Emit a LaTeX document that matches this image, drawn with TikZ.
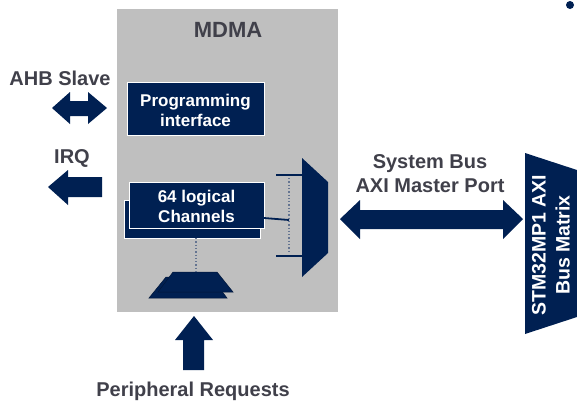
\documentclass[tikz,border=0pt]{standalone}
\usepackage{fontspec}
\setmainfont{Liberation Sans}
\definecolor{navy}{RGB}{0,32,82}
\definecolor{panel}{RGB}{191,191,191}
\definecolor{lbl}{RGB}{64,64,74}
\definecolor{dotc}{RGB}{100,116,145}
\begin{document}
\begin{tikzpicture}[x=1pt,y=-1pt,
  lab/.style={font=\fontsize{20}{24}\selectfont\bfseries, text=lbl, align=center, inner sep=0pt},
  boxtxt/.style={font=\fontsize{17}{20}\selectfont\bfseries, text=white, align=center, inner sep=0pt},
  navybox/.style={fill=navy, draw=white, line width=0.8pt},
  wire/.style={draw=navy, line width=2pt},
  dotwire/.style={draw=dotc, line width=1.3pt, dotted}]
\useasboundingbox (0,0) rectangle (577,405);
% MDMA panel
\fill[panel] (117,9) rectangle (338,312);
\node[lab, font=\fontsize{22}{24}\selectfont\bfseries] (mdma) at (228,30) {MDMA};
% programming interface
\draw[navybox] (127,82) rectangle (264,135);
\node[boxtxt] (prog) at (195.5,110) {Programming\\interface};
% channels
\draw[navybox] (124,200) rectangle (260,238);
\draw[navybox] (129,182) rectangle (264,228);
\node[boxtxt] (chan) at (196.5,206.5) {64 logical\\Channels};
\coordinate (chanR) at (264,218);
\coordinate (chanB) at (196,238);
% mux
\fill[navy] (302,158) -- (328,182) -- (328,253) -- (302,277) -- cycle;
\coordinate (muxA) at (302,175);
\coordinate (muxB) at (302,256);
\coordinate (tA) at (276,175);
\coordinate (tB) at (276,256);
\coordinate (dA) at (289,178);
\coordinate (dB) at (289,253);
\coordinate (dM) at (289,220);
\draw[wire] (tA) -- (muxA);
\draw[wire] (tB) -- (muxB);
\draw[dotwire] (dA) -- (dB);
\draw[wire, line width=1.8pt] (chanR) -- (dM);
% arbiter trapezoids
\fill[navy, draw=navy!70!black, line width=0.5pt] (166,277) -- (211,277) -- (227,298) -- (149,298) -- cycle;
\fill[navy, draw=navy!70!black, line width=0.5pt] (173,272) -- (217,272) -- (233,292) -- (158,292) -- cycle;
\coordinate (arbT) at (196,272);
\draw[dotwire] (chanB) -- (arbT);
% AHB slave
\node[lab] (ahb) at (60,78) {AHB Slave};
\fill[navy] (52,108) -- (70,92) -- (70,101) -- (88,101) -- (88,92) -- (107,108) -- (88,124) -- (88,116) -- (70,116) -- (70,124) -- cycle;
% IRQ
\node[lab] (irq) at (72,158) {IRQ};
\fill[navy] (48,187) -- (68,170) -- (68,177) -- (102,177) -- (102,197) -- (68,197) -- (68,205) -- cycle;
% peripheral requests
\fill[navy] (194,316) -- (213,340) -- (204,340) -- (204,370) -- (183,370) -- (183,340) -- (175,340) -- cycle;
\node[lab] (periph) at (193,391) {Peripheral Requests};
% system bus
\node[lab] (sysbus) at (430,174) {System Bus\\AXI Master Port};
\fill[navy] (340,219) -- (360,200) -- (360,210) -- (503,210) -- (503,200) -- (523,219) -- (503,239) -- (503,229) -- (360,229) -- (360,239) -- cycle;
% bus matrix
\fill[navy] (525,153) -- (580,171) -- (580,316) -- (525,334) -- cycle;
\node[boxtxt, font=\fontsize{19.5}{24}\selectfont\bfseries, rotate=90] (matrix) at (551,245) {STM32MP1 AXI\\Bus Matrix};
% bullet
\fill[navy] (570,5) circle (4);
\end{tikzpicture}
\end{document}
